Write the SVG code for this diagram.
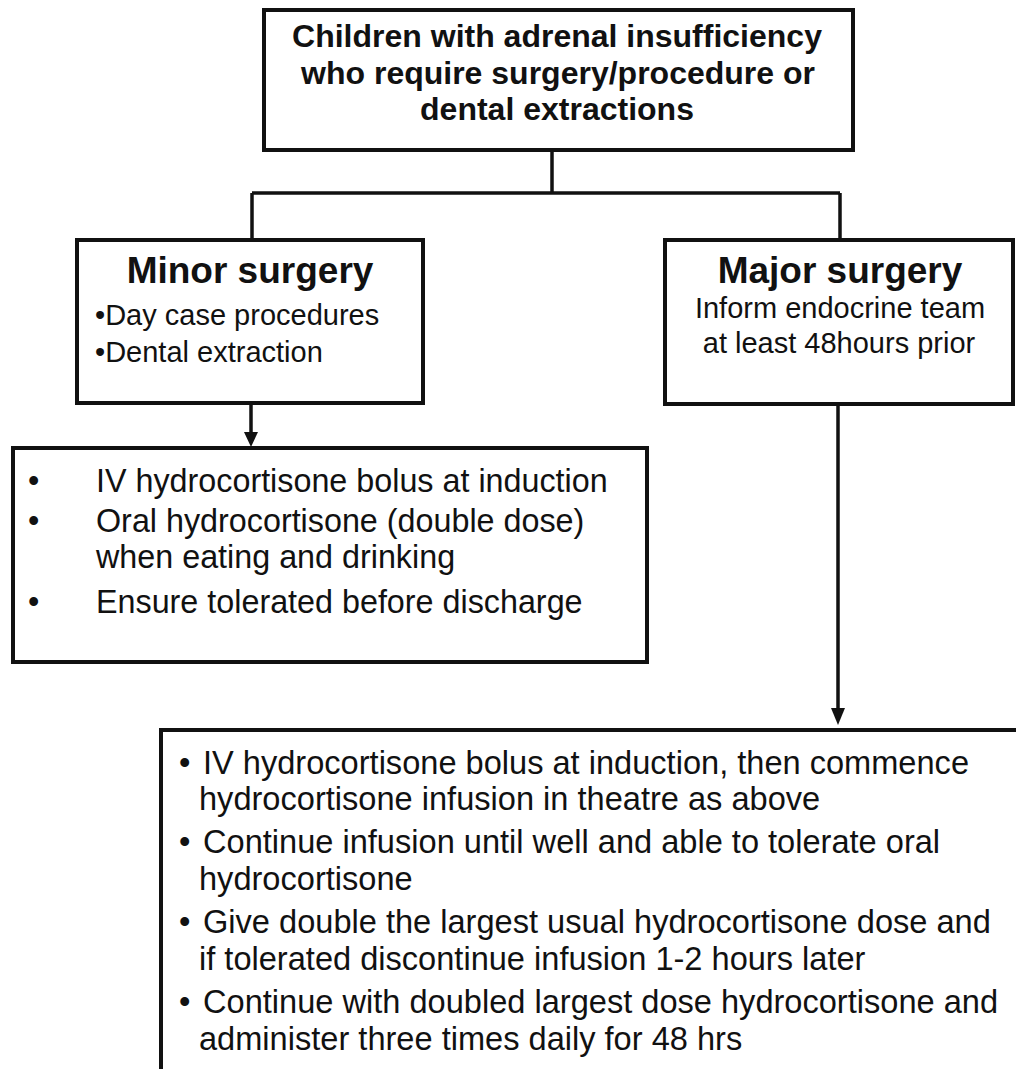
<svg xmlns="http://www.w3.org/2000/svg" width="1016" height="1069" viewBox="0 0 1016 1069">
<style>
  .box { fill: #fff; stroke: #111; stroke-width: 4; }
  .conn { fill: none; stroke: #111; stroke-width: 3.5; }
  .head-arrow { fill: #111; }
  text { font-family: "Liberation Sans", Arial, sans-serif; fill: #111; }
  .title { font-weight: bold; font-size: 32px; text-anchor: middle; }
  .head { font-weight: bold; font-size: 37px; text-anchor: middle; }
  .sub { font-size: 29px; }
  .subc { font-size: 29px; text-anchor: middle; }
  .body { font-size: 32.3px; }
  .body2 { font-size: 32.6px; }
</style>
<rect width="1016" height="1069" fill="#fff"/>

<g id="connectors">
  <path class="conn" d="M552,150 V193"/>
  <path class="conn" d="M252,193 H840"/>
  <path class="conn" d="M252,193 V240"/>
  <path class="conn" d="M840,193 V240"/>
  <path class="conn" d="M251,403 V434"/>
  <path class="head-arrow" d="M244,432 L258,432 L251,447 Z"/>
  <path class="conn" d="M838,404 V712"/>
  <path class="head-arrow" d="M831,708 L845,708 L838,725 Z"/>
</g>

<g id="node-top">
  <rect class="box" x="264" y="10" width="589" height="140"/>
  <text class="title" x="557" y="47">Children with adrenal insufficiency</text>
  <text class="title" x="558" y="84">who require surgery/procedure or</text>
  <text class="title" x="557" y="120">dental extractions</text>
</g>

<g id="node-minor">
  <rect class="box" x="77" y="240" width="346" height="163"/>
  <text class="head" x="250" y="283">Minor surgery</text>
  <text class="sub" x="95" y="325">•Day case procedures</text>
  <text class="sub" x="95" y="362">•Dental extraction</text>
</g>

<g id="node-major">
  <rect class="box" x="665" y="240" width="348" height="164"/>
  <text class="head" x="840" y="283">Major surgery</text>
  <text class="subc" x="840" y="318">Inform endocrine team</text>
  <text class="subc" x="839" y="353">at least 48hours prior</text>
</g>

<g id="node-minor-steps">
  <rect class="box" x="13" y="448" width="634" height="214"/>
  <text class="body" x="28" y="492">•</text>
  <text class="body" x="96" y="492">IV hydrocortisone bolus at induction</text>
  <text class="body" x="28" y="532">•</text>
  <text class="body" x="96" y="532">Oral hydrocortisone (double dose)</text>
  <text class="body" x="96" y="568">when eating and drinking</text>
  <text class="body" x="28" y="613">•</text>
  <text class="body" x="96" y="613">Ensure tolerated before discharge</text>
</g>

<g id="node-major-steps">
  <rect class="box" x="161" y="730" width="880" height="360"/>
  <text class="body2" x="179" y="774">•</text>
  <text class="body2" x="203" y="774">IV hydrocortisone bolus at induction, then commence</text>
  <text class="body2" x="199" y="810">hydrocortisone infusion in theatre as above</text>
  <text class="body2" x="179" y="853">•</text>
  <text class="body2" x="203" y="853">Continue infusion until well and able to tolerate oral</text>
  <text class="body2" x="199" y="890">hydrocortisone</text>
  <text class="body2" x="179" y="933">•</text>
  <text class="body2" x="203" y="933">Give double the largest usual hydrocortisone dose and</text>
  <text class="body2" x="199" y="970">if tolerated discontinue infusion 1-2 hours later</text>
  <text class="body2" x="179" y="1013">•</text>
  <text class="body2" x="203" y="1013">Continue with doubled largest dose hydrocortisone and</text>
  <text class="body2" x="199" y="1050">administer three times daily for 48 hrs</text>
</g>
</svg>
